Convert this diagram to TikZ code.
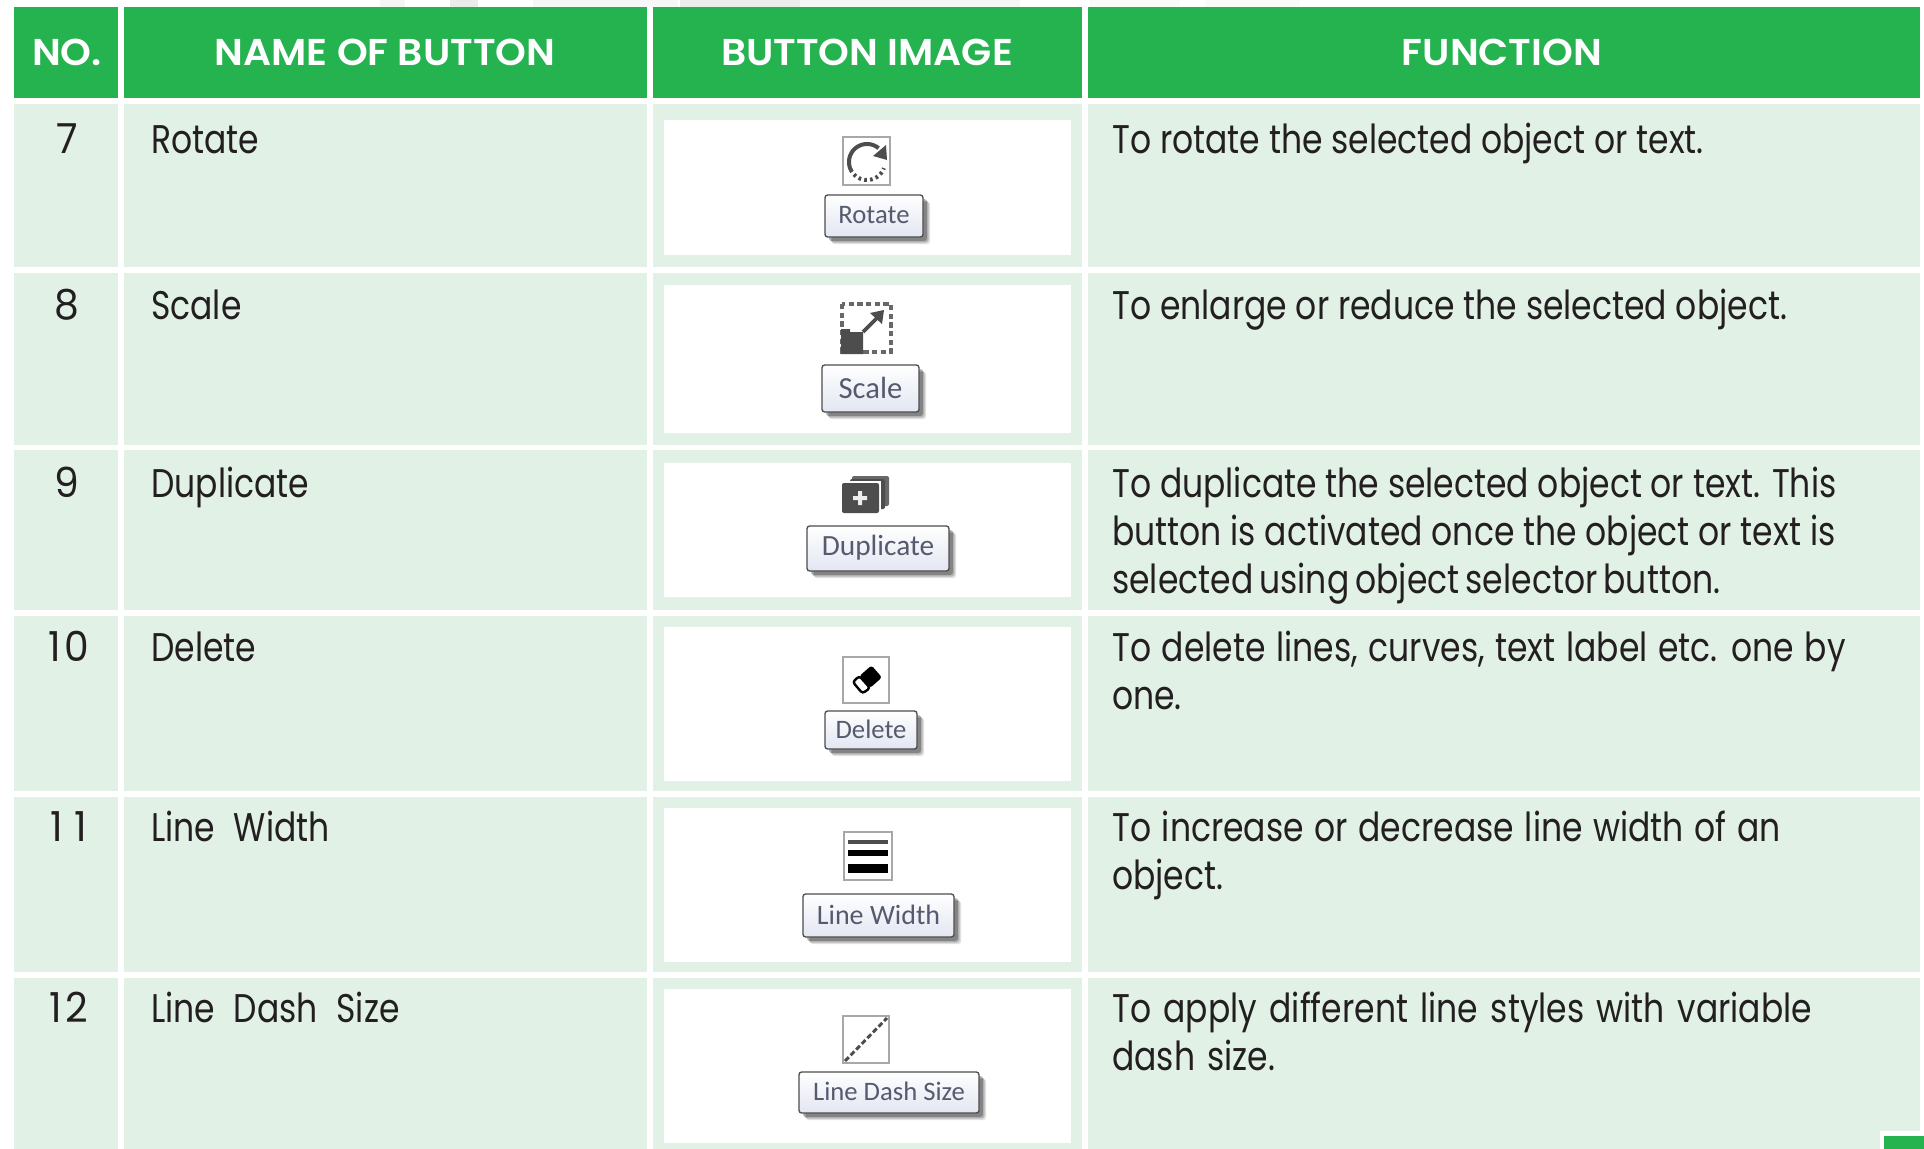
\documentclass[tikz,border=0pt]{standalone}
\usepackage{fontspec}
\setmainfont[FakeStretch=0.825]{Poppins}
\newfontfamily\headfont[FakeStretch=1.05]{Poppins SemiBold}
\newfontfamily\numfont[FakeStretch=0.95]{Poppins}
\newfontfamily\uifont{Carlito}
\definecolor{hgreen}{HTML}{25B350}
\definecolor{rowgreen}{HTML}{E1F1E6}
\definecolor{inktext}{HTML}{231F20}
\definecolor{uitext}{HTML}{555A6E}
\definecolor{icondark}{HTML}{4D4D4D}
\definecolor{iconframe}{HTML}{A8A8A8}
\definecolor{btnlow}{HTML}{E3E6F2}
\tikzset{
  head/.style={anchor=base,text=white,font=\headfont\fontsize{28}{28}\selectfont,inner sep=0pt},
  body/.style={anchor=base west,text=inktext,font=\fontsize{30}{30}\selectfont,inner sep=0pt},
  wordgap/.style={execute at begin node={\spaceskip=#1\relax}},
  namebody/.style={body,wordgap=14pt},
  numtext/.style={anchor=base,text=inktext,font=\numfont\fontsize{31}{31}\selectfont,inner sep=0pt},
  iconbox/.style={draw=iconframe,line width=1.2pt,fill=white},
}
\newcommand{\uibutton}[7]{% x0 y0 x1 y1 text name fontsize
  \foreach \k/\o in {7/0.12,5.5/0.18,4/0.28}{
    \fill[black,opacity=\o,rounded corners=2pt] (#1+\k,#2+\k) rectangle (#3+\k,#4+\k);
  }
  \draw[draw=icondark,line width=1pt,rounded corners=2pt,top color=white,bottom color=btnlow] (#1,#2) rectangle (#3,#4);
  \node[anchor=center,text=uitext,inner sep=0pt,font=\uifont\fontsize{#7}{#7}\selectfont] (#6) at ({(#1+#3)/2},{(#2+#4)/2-1}) {#5};
}
\begin{document}
\begin{tikzpicture}[x=0.75pt,y=-0.75pt]
\useasboundingbox (0,0) rectangle (1924,1149);
\fill[white] (0,0) rectangle (1924,1149);
% faint background at the top edge
\foreach \xa/\xb/\c in {380/405/4,450/478/8,533/678/3,680/800/7,800/1020/3,1090/1180/2,1205/1300/2}{
  \fill[black!\c] (\xa,0) rectangle (\xb,7);
}
% header
\foreach \xa/\xb in {14/118,124/647,653/1082,1088/1920}{
  \fill[hgreen] (\xa,7) rectangle (\xb,98);
}
\node[head] (hNo) at (67,65) {NO.};
\node[head] (hName) at (385,65) {NAME OF BUTTON};
\node[head] (hImg) at (867,65) {BUTTON IMAGE};
\node[head] (hFun) at (1502,65) {FUNCTION};
% rows
\foreach \ya/\yb/\ia/\ib in {104/267/120/255,273/445/285/433,450/610/463/597,616/791/627/781,797/972/808/962,978/1149/989/1143}{
  \foreach \xa/\xb in {14/118,124/647,653/1082,1088/1920}{
    \fill[rowgreen] (\xa,\ya) rectangle (\xb,\yb);
  }
  \fill[white] (664,\ia) rectangle (1071,\ib);
}
% page tab
\fill[white] (1880,1131) rectangle (1924,1149);
\fill[hgreen] (1884,1136) rectangle (1924,1149);
% numbers
\node[numtext] (n7) at (67,153) {7};
\node[numtext] (n8) at (67,319) {8};
\node[numtext] (n9) at (67,497) {9};
\node[numtext] (n10) at (69,661) {1\kern3pt 0};
\node[numtext] (n11) at (69,841) {1\kern9pt 1};
\node[numtext] (n12) at (69,1022) {1\kern3pt 2};
% names
\node[namebody] (a7) at (151,153) {Rotate};
\node[namebody] (a8) at (151,319) {Scale};
\node[namebody] (a9) at (151,497) {Duplicate};
\node[namebody] (a10) at (151,661) {Delete};
\node[namebody] (a11) at (151,841) {Line Width};
\node[namebody] (a12) at (151,1022) {Line Dash Size};
% functions
\node[body] (f7) at (1112,153) {To rotate the selected object or text.};
\node[body] (f8) at (1112,319) {To enlarge or reduce the selected object.};
\node[body] (f9a) at (1112,497) {To duplicate the selected object or text. This};
\node[body] (f9b) at (1112,545) {button is activated once the object or text is};
\node[body,wordgap=4.6pt] (f9c) at (1112,593) {selected using object selector button.};
\node[body,wordgap=8pt] (f10a) at (1112,661) {To delete lines, curves, text label etc. one by};
\node[body] (f10b) at (1112,709) {one.};
\node[body,wordgap=8pt] (f11a) at (1112,841) {To increase or decrease line width of an};
\node[body] (f11b) at (1112,889) {object.};
\node[body,wordgap=9.3pt] (f12a) at (1112,1022) {To apply different line styles with variable};
\node[body,wordgap=9pt] (f12b) at (1112,1070) {dash size.};
% Rotate icon
\draw[iconbox] (843,137) rectangle (890,185);
\draw[icondark,line width=3pt] plot[domain=50:205,samples=40] ({867+18*cos(\x)},{162-18*sin(\x)});
\fill[icondark] (887,160) -- (886,145) -- (873,156) -- cycle;
\draw[icondark,line width=3pt,dash pattern=on 2pt off 2.4pt] plot[domain=205:340,samples=40] ({867+18*cos(\x)},{162-18*sin(\x)});
\uibutton{825}{195}{923}{237}{Rotate}{b7}{20}
% Scale icon
\draw[icondark!85,line width=3pt,dash pattern=on 4pt off 2.5pt] (842,304) rectangle (891,352);
\fill[icondark] (841,329) -- (850,329) -- (850,332) -- (863,332) -- (863,354) -- (841,354) -- cycle;
\draw[icondark,line width=2.8pt] (863,332) -- (878,317);
\fill[icondark] (884,310) -- (882,324) -- (870,313) -- cycle;
\uibutton{822}{365}{919}{412}{Scale}{b8}{23}
% Duplicate icon
\fill[icondark!85,rounded corners=1.5pt] (852,476) rectangle (889,506);
\fill[white] (848,480) rectangle (885,510);
\fill[icondark,rounded corners=1.5pt] (850,479) rectangle (885,509);
\fill[white] (848,481) rectangle (881,514);
\fill[icondark,rounded corners=1.5pt] (842,483) rectangle (879,513);
\fill[white!85!gray] (858,491) rectangle (862,505) (853,496) rectangle (867,500);
\uibutton{807}{526}{949}{571}{Duplicate}{b9}{22}
% Delete icon
\draw[iconbox] (843,657) rectangle (889,703);
\fill[black,rounded corners=2pt] (859.4,676) -- (870,688) -- (882,677.4) -- (871.5,665.4) -- cycle;
\draw[black,line width=1.8pt,fill=white,rounded corners=2pt] (852.8,682) -- (862.5,693.4) -- (870,688) -- (859.4,676) -- cycle;
\uibutton{825}{711}{917}{749}{Delete}{b10}{20}
% Line width icon
\draw[iconbox] (844,832) rectangle (892,880);
\fill[icondark] (848,840) rectangle (888,844);
\fill[black] (848,850) rectangle (888,856);
\fill[black] (848,864) rectangle (888,873);
\uibutton{803}{894}{954}{937}{Line Width}{b11}{21}
% Line dash icon
\draw[iconbox] (843,1016) rectangle (889,1063);
\draw[icondark,line width=2.2pt,dash pattern=on 4pt off 2pt] (845,1061) -- (887,1018);
\uibutton{799}{1072}{979}{1113}{Line Dash Size}{b12}{20}
\end{tikzpicture}
\end{document}
